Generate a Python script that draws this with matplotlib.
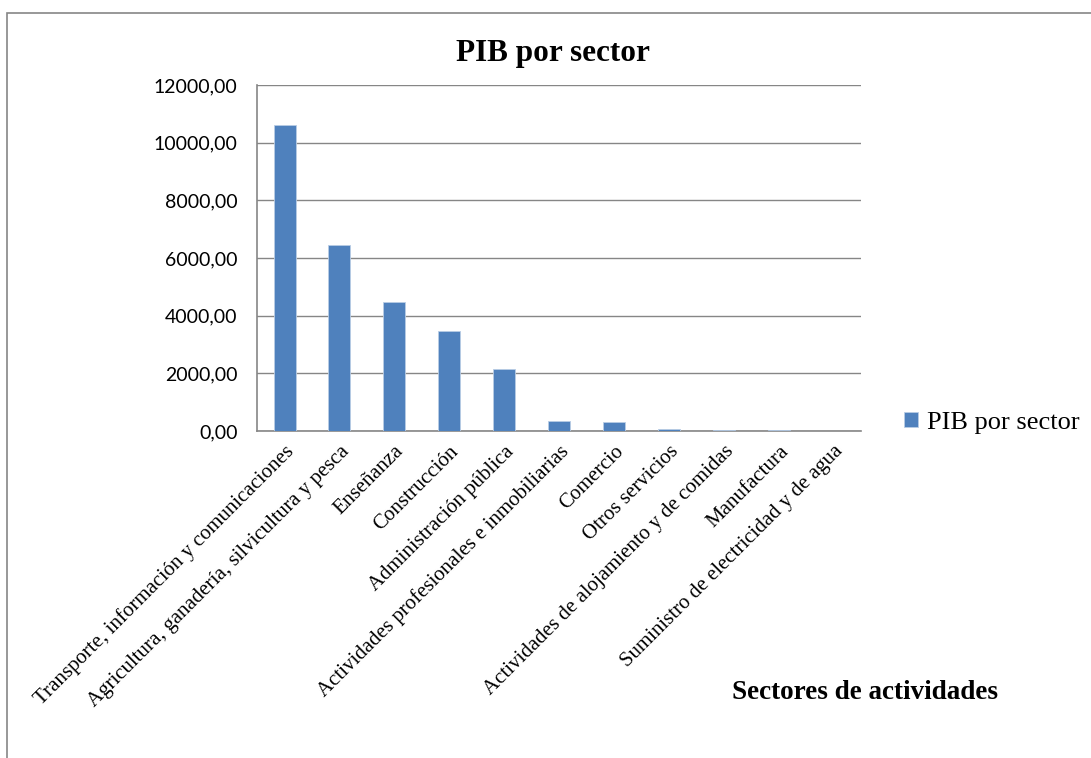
import matplotlib
matplotlib.use("Agg")
import matplotlib.pyplot as plt
from matplotlib.patches import Rectangle
from matplotlib.ticker import FuncFormatter

# datos
sectores = [
    "Transporte, información y comunicaciones",
    "Agricultura, ganadería, silvicultura y pesca",
    "Enseñanza",
    "Construcción",
    "Administración pública",
    "Actividades profesionales e inmobiliarias",
    "Comercio",
    "Otros servicios",
    "Actividades de alojamiento y de comidas",
    "Manufactura",
    "Suministro de electricidad y de agua",
]
pib = [10620, 6460, 4485, 3455, 2140, 350, 315, 82, 25, 22, 10]
y_ticks = [0, 2000, 4000, 6000, 8000, 10000, 12000]

serif = "Liberation Serif"
blue = "#4F81BD"
grey = "#868686"

fig = plt.figure(figsize=(10.91, 7.58), dpi=100)
ax = fig.add_axes([0.2356, 0.4314, 0.554, 0.4565])

x = list(range(len(sectores)))
ax.bar(x, pib, width=0.4, color=blue, edgecolor="#b9cde5", linewidth=0.6,
       label="PIB por sector", zorder=3)

ax.set_xlim(-0.5, len(sectores) - 0.5)
ax.set_ylim(0, 12000)
ax.set_yticks(y_ticks)
ax.yaxis.set_major_formatter(FuncFormatter(lambda v, p: f"{v:.2f}".replace(".", ",")))
ax.grid(axis="y", color=grey, linewidth=1, zorder=0)
ax.tick_params(axis="both", length=0)
ax.tick_params(axis="y", pad=14)
for lab in ax.get_yticklabels():
    lab.set_fontfamily("Lato")
    lab.set_fontsize(14)

ax.set_xticks(x)
ax.set_xticklabels(sectores, rotation=45, ha="right", rotation_mode="anchor",
                   fontfamily=serif, fontsize=15)
ax.tick_params(axis="x", pad=8)

for s in ["top", "right"]:
    ax.spines[s].set_visible(False)
for s in ["left", "bottom"]:
    ax.spines[s].set_color(grey)
    ax.spines[s].set_linewidth(1.2)

fig.text(0.507, 0.929, "PIB por sector", ha="center", va="center",
         fontfamily=serif, fontweight="bold", fontsize=22.5)

leg = fig.legend(loc="center left", bbox_to_anchor=(0.829, 0.442), frameon=False,
                 prop={"family": serif, "size": 19}, handlelength=0.5,
                 handleheight=0.5, handletextpad=0.35, borderaxespad=0, borderpad=0)

fig.text(0.7933, 0.086, "Sectores de actividades", ha="center", va="center",
         fontfamily=serif, fontweight="bold", fontsize=19.5)

# marco exterior
fig.patches.append(Rectangle((0.0066, -0.1), 1.2, 1.0828, transform=fig.transFigure,
                             fill=False, edgecolor=grey, linewidth=1.2))

fig.savefig("out.png", dpi=100)
